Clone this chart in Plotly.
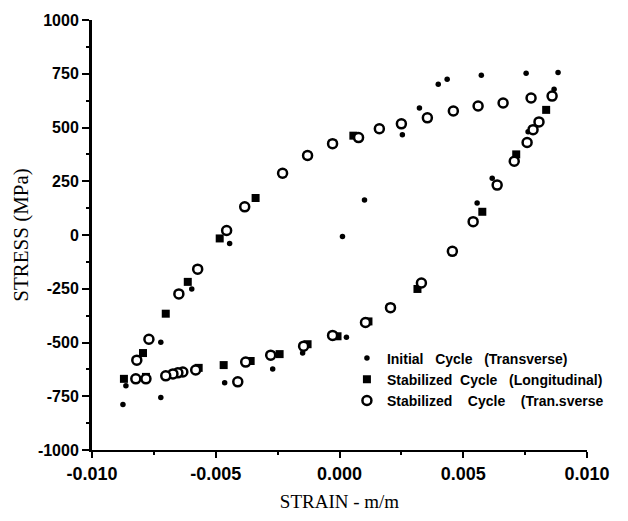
import plotly.graph_objects as go

# Initial Cycle (Transverse)
init_x = [-0.00875, -0.00863, -0.00722, -0.00722, -0.00597, -0.00444, -0.00464, -0.0027,
          -0.00149, 0.00028, 0.00012, 0.00101, 0.00254, 0.00323, 0.00399, 0.00435,
          0.00573, 0.00754, 0.00883, 0.00867, 0.00762, 0.00617, 0.00556]
init_y = [-788, -701, -499, -756, -251, -39, -687, -623,
          -549, -476, -7, 163, 466, 591, 701, 724,
          743, 752, 756, 678, 480, 264, 149]

# Stabilized Cycle (Longitudinal)
long_x = [-0.00871, -0.00794, -0.00702, -0.00613, -0.00484, -0.00339, -0.0023, -0.00129,
          -0.00028, 0.00056, 0.00161, 0.0025, 0.00355, 0.0046, 0.0056, 0.00661,
          0.00774, 0.00859, 0.00835, 0.00782, 0.00714, 0.00637, 0.00577, 0.00456,
          0.00315, 0.00206, 0.00117, -0.00008, -0.00129, -0.00242, -0.00359, -0.00468,
          -0.00569, -0.00782]
long_y = [-669, -549, -366, -218, -16, 172, 287, 370,
          425, 462, 494, 517, 545, 577, 600, 614,
          637, 646, 582, 490, 375, 232, 108, -76,
          -251, -338, -402, -471, -508, -554, -586, -605,
          -618, -660]

# Stabilized Cycle (Transverse)
trans_x = [-0.00823, -0.00819, -0.0077, -0.00649, -0.00573, -0.00456, -0.00383, -0.0023,
           -0.00129, -0.00028, 0.00077, 0.00161, 0.0025, 0.00355, 0.0046, 0.0056,
           0.00661, 0.00774, 0.00859, 0.00806, 0.00782, 0.00758, 0.00706, 0.00637,
           0.0054, 0.00456, 0.00331, 0.00206, 0.00105, -0.00028, -0.00145, -0.00278,
           -0.00379, -0.00411, -0.00581, -0.00633, -0.00653, -0.00673, -0.00702, -0.00782]
trans_y = [-669, -582, -485, -274, -159, 21, 131, 287,
           370, 425, 453, 494, 517, 545, 577, 600,
           614, 637, 646, 526, 490, 430, 343, 232,
           62, -76, -223, -338, -407, -467, -517, -559,
           -591, -683, -628, -637, -641, -646, -655, -669]

x_tickvals = [-0.010, -0.005, 0.000, 0.005, 0.010]
x_ticktext = ["-0.010", "-0.005", "0.000", "0.005", "0.010"]
y_tickvals = [-1000, -750, -500, -250, 0, 250, 500, 750, 1000]
y_ticktext = ["-1000", "-750", "-500", "-250", "0", "250", "500", "750", "1000"]

series_names = ["Initial   Cycle   (Transverse)",
                "Stabilized  Cycle   (Longitudinal)",
                "Stabilized    Cycle    (Tran.sverse"]

fig = go.Figure()
fig.add_trace(go.Scatter(x=init_x, y=init_y, mode="markers", name=series_names[0],
                         marker=dict(symbol="circle", size=5.5, color="black")))
fig.add_trace(go.Scatter(x=long_x, y=long_y, mode="markers", name=series_names[1],
                         marker=dict(symbol="square", size=8, color="black")))
fig.add_trace(go.Scatter(x=trans_x, y=trans_y, mode="markers", name=series_names[2],
                         marker=dict(symbol="circle", size=9, color="white",
                                     line=dict(width=2.5, color="black"))))

ytick_font = dict(family="Arial, Liberation Sans, sans-serif", size=16, color="black", weight="bold")
xtick_font = dict(family="Arial, Liberation Sans, sans-serif", size=18, color="black", weight="bold")
title_font = dict(family="Times New Roman, Liberation Serif, serif", size=19, color="black")
ytitle_font = dict(family="Times New Roman, Liberation Serif, serif", size=21, color="black")

fig.update_layout(
    width=628, height=521,
    margin=dict(l=92, r=41, t=17, b=69),
    paper_bgcolor="white", plot_bgcolor="white",
    showlegend=True,
    legend=dict(x=0.515, y=0.25, xanchor="left", yanchor="top",
                bgcolor="rgba(0,0,0,0)", borderwidth=0,
                font=dict(family="Arial, Liberation Sans, sans-serif", size=14, color="black",
                          weight="bold"),
                itemwidth=30, tracegroupgap=0),
    xaxis=dict(range=[-0.010, 0.010], tickvals=x_tickvals, ticktext=x_ticktext,
               ticks="outside", ticklen=6, tickwidth=2, tickcolor="black",
               showline=True, linecolor="black", linewidth=2, showgrid=False, zeroline=False,
               minor=dict(dtick=0.0025, tick0=0, ticks="outside", ticklen=3, tickwidth=1.5,
                          tickcolor="black", showgrid=False),
               tickfont=xtick_font,
               title=dict(text="STRAIN - m/m", font=title_font, standoff=12)),
    yaxis=dict(range=[-1000, 1000], tickvals=y_tickvals, ticktext=y_ticktext,
               ticks="outside", ticklen=7, tickwidth=2, tickcolor="black",
               showline=True, linecolor="black", linewidth=3, showgrid=False, zeroline=False,
               minor=dict(dtick=125, tick0=0, ticks="outside", ticklen=3, tickwidth=1.5,
                          tickcolor="black", showgrid=False),
               tickfont=ytick_font,
               title=dict(text="STRESS (MPa)", font=ytitle_font, standoff=4)),
)

fig.write_html("out.html")
